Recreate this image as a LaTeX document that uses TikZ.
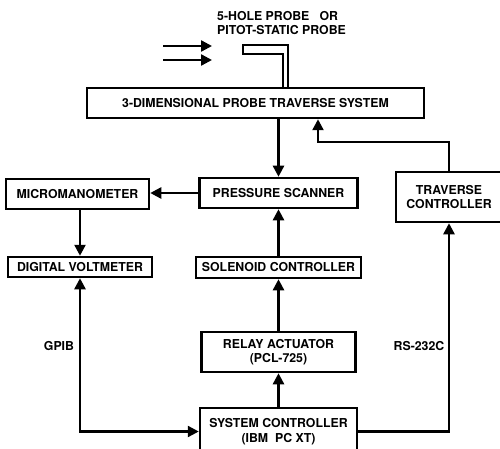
\documentclass[tikz,border=0pt]{standalone}
\usepackage{fontspec}
\setmainfont{TeX Gyre Heros}
\usetikzlibrary{arrows.meta}

\begin{document}
\begin{tikzpicture}[x=1pt,y=-1pt,
    box/.style={draw, line width=2.5pt, inner sep=0pt, align=center,
      font=\fontsize{12.3}{14.5}\selectfont\bfseries},
    conn/.style={line width=2.4pt, -{Triangle[length=11pt,width=11pt]}},
    both/.style={line width=2.4pt, {Triangle[length=11pt,width=11pt]}-{Triangle[length=11pt,width=11pt]}},
    lbl/.style={font=\fontsize{12.3}{14.5}\selectfont\bfseries}]
  \useasboundingbox (0,0) rectangle (500,449);
  % 方框
  \node[box, minimum width=337pt, minimum height=30pt] (trav3d) at (255.5,103) {3-DIMENSIONAL PROBE TRAVERSE SYSTEM};
  \node[box, minimum width=143pt, minimum height=30pt] (micro) at (77.5,194) {MICROMANOMETER};
  \node[box, minimum width=158pt, minimum height=30pt] (scanner) at (278.5,193) {PRESSURE SCANNER};
  \node[box, minimum width=106pt, minimum height=50pt] (travctl) at (449,197) {TRAVERSE\\CONTROLLER};
  \node[box, minimum width=144pt, minimum height=20pt] (dvm) at (80,267) {DIGITAL VOLTMETER};
  \node[box, minimum width=165pt, minimum height=21pt] (solenoid) at (278.5,267.5) {SOLENOID CONTROLLER};
  \node[box, minimum width=154pt, minimum height=40pt] (relay) at (278.5,352) {RELAY ACTUATOR\\(PCL-725)};
  \node[box, minimum width=157pt, minimum height=47pt] (syscon) at (278.5,431.5) {SYSTEM CONTROLLER\\(IBM\ \ PC XT)};
  % 探针
  \node[lbl, anchor=north west, align=left, inner sep=0pt] (probelbl) at (217,11) {5-HOLE PROBE\ \ \ OR\\PITOT-STATIC PROBE};
  \draw[line width=2pt] (283,88) -- (283,54) -- (243,54) -- (243,45) -- (288,45) -- (288,88);
  \draw[conn] (163,46) -- (212,46);
  \draw[conn] (163,60) -- (212,60);
  % 连线
  \coordinate (bend) at (318,142);
  \draw[conn] (trav3d.south -| scanner.north) -- (scanner.north);
  \draw[conn] (travctl.north) -- (travctl.north |- bend) -- (bend) -- (bend |- trav3d.south);
  \draw[conn] (scanner.west) -- (scanner.west -| micro.east);
  \draw[conn] (micro.south -| dvm.north) -- (dvm.north);
  \draw[conn] (solenoid.north) -- (scanner.south);
  \draw[conn] (relay.north) -- (solenoid.south);
  \draw[conn] (syscon.north) -- (relay.south);
  \draw[both] (dvm.south) -- (dvm.south |- syscon.west) -- (syscon.west);
  \draw[conn] (syscon.east) -- (syscon.east -| travctl.south) -- (travctl.south);
  % 标注
  \node[lbl] (gpib) at (59,346) {GPIB};
  \node[lbl] (rs) at (419,346) {RS-232C};
\end{tikzpicture}
\end{document}
